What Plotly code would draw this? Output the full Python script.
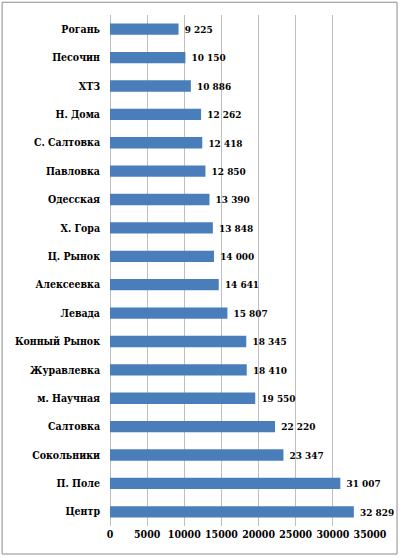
import plotly.graph_objects as go

# districts listed bottom -> top as plotly draws categories upward
DISTRICTS = ["Центр", "П. Поле", "Сокольники", "Салтовка", "м. Научная",
             "Журавлевка", "Конный Рынок", "Левада", "Алексеевка", "Ц. Рынок",
             "Х. Гора", "Одесская", "Павловка", "С. Салтовка", "Н. Дома",
             "ХТЗ", "Песочин", "Рогань"]
VALUES = [32829, 31007, 23347, 22220, 19550, 18410, 18345, 15807, 14641,
          14000, 13848, 13390, 12850, 12418, 12262, 10886, 10150, 9225]
X_TICKS = [0, 5000, 10000, 15000, 20000, 25000, 30000, 35000]

BLUE = "#4a7ebb"
GRID = "#bfbfbf"
FONT = "DejaVu Serif Condensed, DejaVu Serif"

labels = [" " + f"{v:,}".replace(",", " ") for v in VALUES]
bold = dict(family=FONT, size=10.5, color="#000000", weight="bold")

fig = go.Figure(go.Bar(
    x=VALUES, y=DISTRICTS, orientation="h", width=0.4,
    marker=dict(color=BLUE, line=dict(width=0)),
    text=labels, textposition="outside", cliponaxis=False,
    textfont=bold, hoverinfo="skip"))

fig.update_layout(
    width=400, height=557,
    margin=dict(l=110, r=30, t=15, b=31),
    paper_bgcolor="white", plot_bgcolor="white",
    showlegend=False,
    font=dict(family=FONT, size=10.5, color="#000000"),
    xaxis=dict(range=[0, 35000], tickvals=X_TICKS, ticktext=[str(t) for t in X_TICKS],
               showgrid=True, gridcolor=GRID, gridwidth=1, zeroline=True,
               zerolinecolor=GRID, zerolinewidth=1, showline=False, ticks="",
               tickangle=0, automargin=False,
               tickfont=bold, fixedrange=True),
    yaxis=dict(categoryorder="array", categoryarray=DISTRICTS, showgrid=False,
               showline=False, ticks="", ticklabelstandoff=9, automargin=False,
               tickfont=bold, fixedrange=True),
    shapes=[dict(type="rect", xref="paper", yref="paper", layer="above",
                 x0=-0.415, x1=1.104, y0=-0.0548, y1=1.025,
                 line=dict(color="#8c8c8c", width=1))],
)

fig.write_html("out.html", config={"displayModeBar": False},
               post_script="document.body.style.margin='0';")
